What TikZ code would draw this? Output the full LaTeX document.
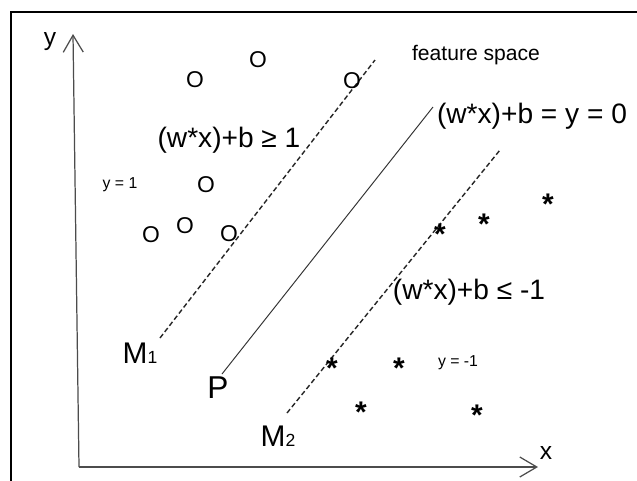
\documentclass[tikz,border=0pt]{standalone}
\usepackage{fontspec}
\setmainfont{Liberation Sans}
\usetikzlibrary{arrows.meta, positioning}

\begin{document}
\begin{tikzpicture}[
        x=0.02cm, y=-0.02cm,
        frame/.style={draw=black, line width=1.1pt},
        axis/.style={draw=black!70, line width=0.7pt},
        tip/.style={-{Straight Barb[length=0.34cm, width=0.4cm, line width=0.7pt]}},
        margin/.style={draw=black!85, line width=0.8pt, dash pattern=on 2.8pt off 1.6pt},
        hyper/.style={draw=black!80, line width=0.55pt},
        lbl/.style={font=\fontsize{16}{16}\selectfont, inner sep=0pt},
        note/.style={font=\fontsize{9}{9}\selectfont, inner sep=0pt},
        circ/.style={font=\fontsize{13}{13}\selectfont, inner sep=0pt},
        ast/.style={font=\fontsize{17}{17}\selectfont\bfseries, inner sep=0pt, yshift=-3.8pt}
    ]
        \useasboundingbox (0,0) rectangle (637,481);
        \fill[white] (0,0) rectangle (637,481);
        \draw[frame] (11,490) -- (11,12) -- (645,12);

        % axes
        \coordinate (origin) at (79,467);
        \coordinate (ytip) at (73,34);
        \coordinate (xtip) at (538,467);
        \draw[axis, tip] (origin) -- (ytip);
        \draw[axis, tip] (origin) -- (xtip);
        \node[font=\fontsize{14}{14}\selectfont, inner sep=0pt] (ylab) at (50,42) {y};
        \node[font=\fontsize{14}{14}\selectfont, inner sep=0pt] (xlab) at (546,453) {x};

        % margins and hyperplane
        \coordinate (m1low) at (160,338);
        \coordinate (m1high) at (375,60);
        \coordinate (plow) at (222,374);
        \coordinate (phigh) at (433,107);
        \coordinate (m2low) at (287,413);
        \coordinate (m2high) at (500,150);
        \draw[margin] (m1low) -- (m1high);
        \draw[hyper] (plow) -- (phigh);
        \draw[margin] (m2low) -- (m2high);

        \node[lbl, font=\fontsize{17}{17}\selectfont] (m1) at (140,353) {M{\fontsize{10}{10}\selectfont 1}};
        \node[lbl, font=\fontsize{18}{18}\selectfont] (p) at (218,388) {P};
        \node[lbl, font=\fontsize{17}{17}\selectfont] (m2) at (278,436) {M{\fontsize{10}{10}\selectfont 2}};

        \node[font=\fontsize{12}{12}\selectfont, inner sep=0pt] (space) at (476,55) {feature space};
        \node[lbl] (pos) at (229,140) {(w*x)+b ≥ 1};
        \node[lbl] (zero) at (532,116) {(w*x)+b = y = 0};
        \node[lbl] (neg) at (469,292) {(w*x)+b ≤ -1};
        \node[note] (ypos) at (120,185) {y = 1};
        \node[note] (yneg) at (458,363) {y = -1};

        % class +1
        \node[circ] (c1) at (195,80) {O};
        \node[circ] (c2) at (258,60) {O};
        \node[circ] (c3) at (352,81) {O};
        \node[circ] (c4) at (206,185) {O};
        \node[circ] (c5) at (151,235) {O};
        \node[circ] (c6) at (185,226) {O};
        \node[circ] (c7) at (229,234) {O};

        % class -1
        \node[ast] (s1) at (440,228) {*};
        \node[ast] (s2) at (484,218) {*};
        \node[ast] (s3) at (548,198) {*};
        \node[ast] (s4) at (332,362) {*};
        \node[ast] (s5) at (399,362) {*};
        \node[ast] (s6) at (361,406) {*};
        \node[ast] (s7) at (477,409) {*};
    \end{tikzpicture}
\end{document}
